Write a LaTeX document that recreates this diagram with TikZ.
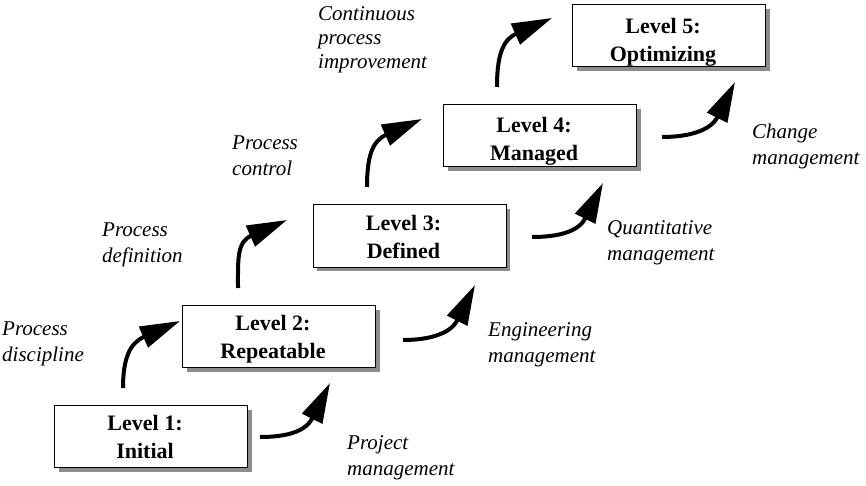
\documentclass[tikz,border=0pt]{standalone}
\usepackage{fontspec}
\setmainfont{Liberation Serif}
\usetikzlibrary{arrows.meta,shadows,calc}
\begin{document}
\begin{tikzpicture}[x=1pt,y=-1pt,
  lvl/.style={draw=black, line width=1pt, fill=white, minimum width=193pt, minimum height=62pt, inner sep=0pt,
    drop shadow={shadow xshift=4pt, shadow yshift=-4pt, fill=black!45, opacity=1}},
  lvltext/.style={font=\fontsize{22}{28}\selectfont\bfseries, align=center, inner sep=0pt, anchor=north},
  lbl/.style={font=\fontsize{21}{26}\selectfont\itshape, align=left, inner sep=0pt, anchor=north west},
  arrowup/.style={line width=4pt, -{Triangle[length=40pt,width=22pt]}},
  arrowrt/.style={line width=4pt, -{Triangle[length=40pt,width=22pt]}},
]
\useasboundingbox[fill=white] (0,0) rectangle (866,486);

% level boxes
\node[lvl] (b1) at (151,436.5) {};
\node[lvl] (b2) at (279,336.5) {};
\node[lvl] (b3) at (409.5,236) {};
\node[lvl] (b4) at (540,136) {};
\node[lvl] (b5) at (669,36) {};

\node[lvltext] (t1) at ($(b1.center)+(-6,-21)$) {Level 1:\\Initial};
\node[lvltext] (t2) at ($(b2.center)+(-6,-21)$) {Level 2:\\Repeatable};
\node[lvltext] (t3) at ($(b3.center)+(-6,-21)$) {Level 3:\\Defined};
\node[lvltext] (t4) at ($(b4.center)+(-6,-19)$) {Level 4:\\Managed};
\node[lvltext] (t5) at ($(b5.center)+(-6,-18)$) {Level 5:\\Optimizing};

% arrow end points
\coordinate (l1s) at (123,388); \coordinate (l1e) at (180,321);
\coordinate (l2s) at (238,288); \coordinate (l2e) at (287,220);
\coordinate (l3s) at (367,187); \coordinate (l3e) at (422,119);
\coordinate (l4s) at (497,87);  \coordinate (l4e) at (552,18);
\coordinate (r1s) at (260,437); \coordinate (r1e) at (330,383);
\coordinate (r2s) at (403,340); \coordinate (r2e) at (475,285);
\coordinate (r3s) at (532,237); \coordinate (r3e) at (603,183);
\coordinate (r4s) at (662,137); \coordinate (r4e) at (735,82);

\draw[arrowup] (l1s) .. controls +(0,-30) and +(-50,22) .. (l1e);
\draw[arrowup] (l2s) .. controls +(0,-30) and +(-50,22) .. (l2e);
\draw[arrowup] (l3s) .. controls +(0,-30) and +(-50,22) .. (l3e);
\draw[arrowup] (l4s) .. controls +(0,-30) and +(-50,22) .. (l4e);

\draw[arrowrt] (r1s) .. controls +(28,0) and +(-24,48) .. (r1e);
\draw[arrowrt] (r2s) .. controls +(28,0) and +(-24,48) .. (r2e);
\draw[arrowrt] (r3s) .. controls +(28,0) and +(-24,48) .. (r3e);
\draw[arrowrt] (r4s) .. controls +(28,0) and +(-24,48) .. (r4e);

% labels
\node[lbl] (n1) at (2,321.5) {Process\\discipline};
\node[lbl] (n2) at (102,222.5) {Process\\definition};
\node[lbl] (n3) at (232,135.5) {Process\\control};
\node[lbl, font=\fontsize{21}{24}\selectfont\itshape] (n4) at (318,6.5) {Continuous\\process\\improvement};
\node[lbl] (n5) at (347,435.5) {Project\\management};
\node[lbl] (n6) at (488,322.5) {Engineering\\management};
\node[lbl] (n7) at (607,220.5) {Quantitative\\management};
\node[lbl] (n8) at (752,123.5) {Change\\management};
\end{tikzpicture}
\end{document}
